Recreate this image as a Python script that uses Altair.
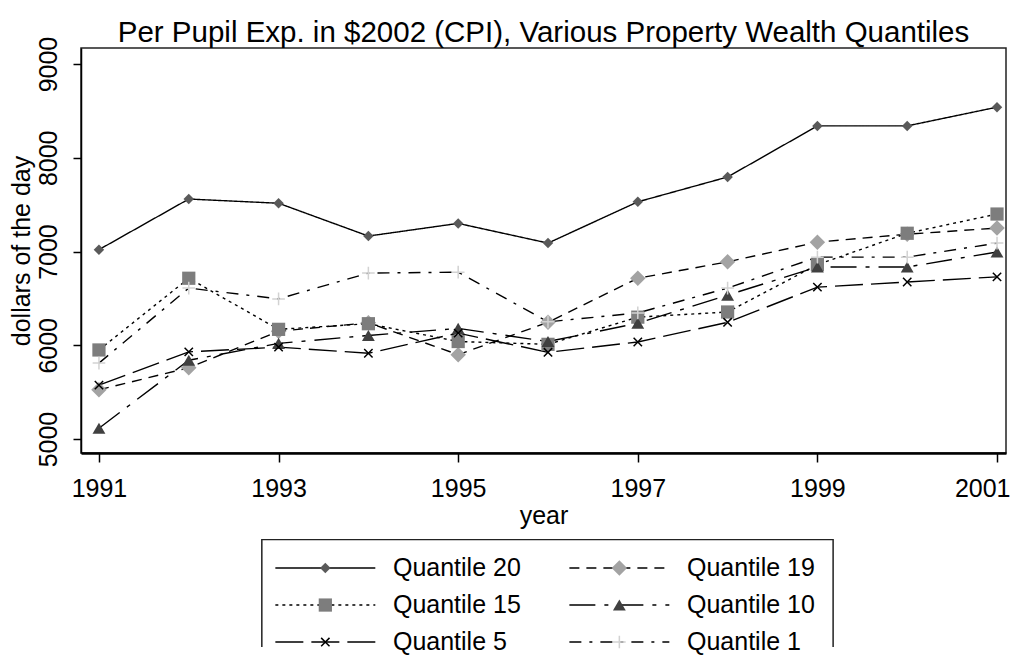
import altair as alt
import pandas as pd

# ---------------- data ----------------
years = list(range(1991, 2002))
series_names = ["Quantile 20", "Quantile 19", "Quantile 15",
                "Quantile 10", "Quantile 5", "Quantile 1"]
q20 = [7020, 7560, 7515, 7165, 7300, 7090, 7530, 7795, 8340, 8340, 8540]
q19 = [5525, 5760, 6150, 6240, 5900, 6245, 6715, 6890, 7100, 7185, 7250]
q15 = [5950, 6715, 6170, 6230, 6040, 6010, 6300, 6355, 6860, 7195, 7400]
q10 = [5115, 5840, 6020, 6105, 6180, 6040, 6235, 6535, 6835, 6835, 6995]
q5 = [5575, 5930, 5980, 5915, 6130, 5925, 6035, 6245, 6620, 6675, 6730]
q1 = [5810, 6610, 6495, 6770, 6780, 6250, 6345, 6610, 6940, 6940, 7090]
x_ticks = [1991, 1993, 1995, 1997, 1999, 2001]
y_ticks = [5000, 6000, 7000, 8000, 9000]

title_text = "Per Pupil Exp. in $2002 (CPI), Various Property Wealth Quantiles"
x_title = "year"
y_title = "dollars of the day"

rows = []
for name, vals in zip(series_names, [q20, q19, q15, q10, q5, q1]):
    for yr, v in zip(years, vals):
        rows.append({"year": yr, "value": v, "series": name})
df = pd.DataFrame(rows)

# ---------------- styles ----------------
FONT = "Liberation Sans"
dash_range = [[1, 0], [10, 7], [3, 4], [26, 9, 4, 9], [28, 8], [12, 8, 3, 8]]
shape_range = ["diamond", "diamond", "square", "triangle-up",
               "M-1,-1L1,1M-1,1L1,-1", "M-1,0L1,0M0,-1L0,1"]
color_range = ["#5a5a5a", "#a3a3a3", "#7d7d7d", "#404040", "#000000", "#d2d2d2"]
size_range = [110, 240, 175, 165, 70, 160]

dash_scale = alt.Scale(domain=series_names, range=dash_range)
shape_scale = alt.Scale(domain=series_names, range=shape_range)
color_scale = alt.Scale(domain=series_names, range=color_range)
size_scale = alt.Scale(type="ordinal", domain=series_names, range=size_range)

filled_names = series_names[:4]
stroked_names = series_names[4:]

x_scale = alt.Scale(domain=[1990.8, 2001.1], nice=False, zero=False)
y_scale = alt.Scale(domain=[4851, 9171], nice=False, zero=False)

x_enc = alt.X("year:Q", scale=x_scale,
              axis=alt.Axis(values=x_ticks, format="d", title=x_title,
                            labelFontSize=25, titleFontSize=25,
                            titleFontWeight="normal", labelFont=FONT,
                            titleFont=FONT, labelColor="black",
                            titleColor="black", tickSize=9, tickWidth=1.5,
                            tickColor="black", domainColor="black",
                            domainWidth=2.5, labelPadding=14,
                            labelFlush=10, labelFlushOffset=13,
                            titlePadding=2, grid=False))
y_enc = alt.Y("value:Q", scale=y_scale,
              axis=alt.Axis(values=y_ticks, format="d", title=y_title,
                            labelAngle=270, labelAlign="center",
                            labelBaseline="alphabetic",
                            labelFontSize=25, titleFontSize=25,
                            titleFontWeight="normal", labelFont=FONT,
                            titleFont=FONT, labelColor="black",
                            titleColor="black", tickSize=8, tickWidth=1.5,
                            tickColor="black", domainColor="black",
                            domainWidth=1.5, labelPadding=17,
                            titlePadding=2, grid=False))


def point_layers(source, xfield, yenc_fn):
    filled = source.transform_filter(
        alt.FieldOneOfPredicate(field="series", oneOf=filled_names)
    ).mark_point(filled=True, opacity=1).encode(
        x=xfield, y=yenc_fn(),
        shape=alt.Shape("series:N", scale=shape_scale, legend=None),
        color=alt.Color("series:N", scale=color_scale, legend=None),
        size=alt.Size("series:N", scale=size_scale, legend=None),
    )
    stroked = source.transform_filter(
        alt.FieldOneOfPredicate(field="series", oneOf=stroked_names)
    ).mark_point(filled=False, opacity=1, strokeWidth=1.5).encode(
        x=xfield, y=yenc_fn(),
        shape=alt.Shape("series:N", scale=shape_scale, legend=None),
        color=alt.Color("series:N", scale=color_scale, legend=None),
        size=alt.Size("series:N", scale=size_scale, legend=None),
    )
    return filled, stroked


base = alt.Chart(df)
lines = base.mark_line(color="#000000", strokeWidth=1.4).encode(
    x=x_enc, y=y_enc,
    strokeDash=alt.StrokeDash("series:N", scale=dash_scale, legend=None),
    detail="series:N",
)
pf, ps = point_layers(base, alt.X("year:Q"), lambda: alt.Y("value:Q"))

main = alt.layer(lines, pf, ps).properties(
    width=925, height=405,
    title=alt.Title(title_text, fontSize=29.5, fontWeight="normal", font=FONT,
                    color="black", offset=-12, frame="group"),
)

# ---------------- hand-built legend (two columns, three rows) ----------------
leg_rows = []
for i, name in enumerate(series_names):
    col, row = i % 2, i // 2
    leg_rows.append({"series": name, "row": row,
                     "x0": col + 0.0, "x1": col + 0.34,
                     "xm": col + 0.17, "xt": col + 0.40})
leg_df = pd.DataFrame(leg_rows)
box_df = pd.DataFrame([{"bx0": -0.046, "bx1": 1.897, "by0": -0.77, "by1": 3.5}])

lx = alt.Scale(domain=[-0.661, 2.485], nice=False, zero=False)
ly = alt.Scale(domain=[-0.785, 2.134], nice=False, zero=False, reverse=True)

leg_base = alt.Chart(leg_df)
leg_lines = leg_base.mark_rule(color="#000000", strokeWidth=1.4).encode(
    x=alt.X("x0:Q", scale=lx, axis=None), x2="x1:Q",
    y=alt.Y("row:Q", scale=ly, axis=None),
    strokeDash=alt.StrokeDash("series:N", scale=dash_scale, legend=None),
)
lf, ls = point_layers(leg_base, alt.X("xm:Q", scale=lx, axis=None),
                      lambda: alt.Y("row:Q", scale=ly, axis=None))
leg_text = leg_base.mark_text(align="left", baseline="middle", fontSize=25,
                              font=FONT, color="black").encode(
    x=alt.X("xt:Q", scale=lx, axis=None), y=alt.Y("row:Q", scale=ly, axis=None),
    text="series:N",
)
leg_box = alt.Chart(box_df).mark_rect(fill="white", stroke="#222222",
                                      strokeWidth=1.5, clip=True).encode(
    x=alt.X("bx0:Q", scale=lx, axis=None), x2="bx1:Q",
    y=alt.Y("by0:Q", scale=ly, axis=None), y2="by1:Q",
)

legend = alt.layer(leg_box, leg_lines, lf, ls, leg_text).properties(
    width=925, height=108,
    view=alt.ViewBackground(strokeOpacity=0),
)

chart = alt.vconcat(main, legend, spacing=10).properties(
    padding={"left": 0, "top": 8, "right": 0, "bottom": 0},
    background="white",
).configure_view(stroke="#222222", strokeWidth=1.5)

chart.save("out.html", embed_options={"renderer": "svg", "actions": False})
